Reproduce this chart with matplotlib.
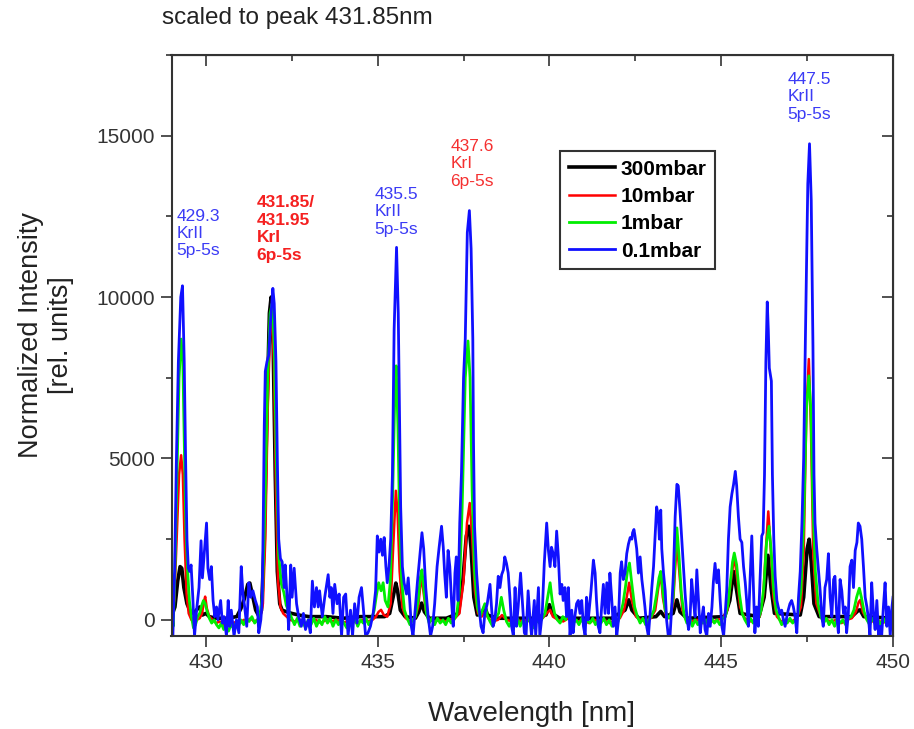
import numpy as np
import matplotlib
matplotlib.use('Agg')
import matplotlib.pyplot as plt
from matplotlib.ticker import MultipleLocator

plt.rcParams['font.family'] = ['Liberation Sans', 'DejaVu Sans']

# ---------------------------------------------------------------------------
# spectra: (wavelength nm, normalized intensity)
# ---------------------------------------------------------------------------
spec_300mbar = [
    (429.00, 100), (429.10, 400), (429.18, 1200), (429.25, 1650), (429.30, 1600),
    (429.36, 1000), (429.45, 500), (429.55, 250), (429.65, 200), (429.72, 300),
    (429.82, 400), (429.90, 150), (430.00, 200), (430.10, 100), (430.30, 50),
    (430.60, 50), (430.90, 100), (431.02, 350), (431.12, 650), (431.22, 1100),
    (431.28, 1140), (431.35, 800), (431.45, 300), (431.55, 100), (431.62, 300),
    (431.70, 2500), (431.78, 6500), (431.85, 9500), (431.90, 10000), (431.96, 8500),
    (432.02, 4500), (432.08, 1500), (432.15, 500), (432.22, 300), (432.35, 250),
    (432.50, 200), (432.70, 150), (433.00, 100), (433.50, 100), (434.00, 50),
    (434.50, 100), (435.00, 100), (435.20, 100), (435.35, 200), (435.45, 700),
    (435.53, 1140), (435.58, 900), (435.66, 300), (435.80, 100), (436.10, 50),
    (436.20, 250), (436.28, 520), (436.36, 250), (436.50, 50), (437.00, 50),
    (437.35, 200), (437.48, 1200), (437.58, 2600), (437.66, 2900), (437.72, 2200),
    (437.80, 700), (437.90, 150), (438.03, 200), (438.12, 410), (438.20, 150),
    (438.50, 50), (439.00, 50), (439.50, 50), (439.90, 150), (440.00, 470),
    (440.08, 200), (440.30, 50), (441.00, 50), (441.80, 50), (442.20, 300),
    (442.31, 620), (442.40, 300), (442.60, 50), (443.10, 100), (443.24, 260),
    (443.35, 100), (443.60, 200), (443.71, 620), (443.80, 250), (444.00, 50),
    (445.10, 100), (445.25, 600), (445.36, 1500), (445.45, 900), (445.55, 200),
    (446.10, 100), (446.25, 700), (446.36, 2000), (446.45, 1000), (446.55, 200),
    (447.30, 150), (447.40, 700), (447.50, 2200), (447.56, 2500), (447.62, 1800),
    (447.70, 500), (447.85, 100), (448.80, 100), (449.00, 300), (449.04, 310),
    (449.15, 100), (450.00, 50),
]

spec_10mbar = [
    (429.00, 200), (429.08, 600), (429.15, 2500), (429.22, 4500), (429.28, 5100),
    (429.33, 4500), (429.38, 2500), (429.44, 800), (429.50, 200), (429.58, 0),
    (429.66, -100), (429.74, 0), (429.82, 50), (429.89, 200), (429.94, 550),
    (429.98, 720), (430.03, 350), (430.10, 100), (430.20, 0), (430.30, -100),
    (430.40, -50), (430.50, -150), (430.60, -100), (430.70, -200), (430.80, -100),
    (430.90, -50), (431.00, -100), (431.10, 0), (431.20, -50), (431.30, 50),
    (431.40, -50), (431.50, 0), (431.58, 50), (431.66, 500), (431.73, 2500),
    (431.80, 6500), (431.87, 9000), (431.92, 9500), (431.98, 8000), (432.04, 4000),
    (432.10, 1200), (432.17, 400), (432.25, 200), (432.35, 100), (432.45, 0),
    (432.60, -50), (432.75, 0), (432.90, -100), (433.05, -50), (433.20, 0),
    (433.35, -100), (433.50, 0), (433.65, -50), (433.80, 0), (433.95, -100),
    (434.10, -50), (434.25, 0), (434.40, -100), (434.55, 0), (434.70, -50),
    (434.85, 0), (434.95, 100), (435.03, 250), (435.10, 310), (435.18, 150),
    (435.28, 100), (435.38, 500), (435.45, 2200), (435.53, 4000), (435.58, 3300),
    (435.64, 1500), (435.72, 400), (435.82, 50), (435.95, -50), (436.08, 50),
    (436.18, 400), (436.27, 1350), (436.32, 1000), (436.40, 300), (436.50, 0),
    (436.65, -50), (436.80, 0), (436.95, -50), (437.10, 0), (437.25, 50),
    (437.38, 200), (437.50, 1200), (437.60, 3000), (437.68, 3620), (437.75, 2600),
    (437.83, 900), (437.92, 200), (438.03, 100), (438.12, 250), (438.22, 50),
    (438.35, -50), (438.50, 0), (438.62, 150), (438.75, 0), (438.90, -50),
    (439.05, 0), (439.20, -50), (439.35, 0), (439.50, -100), (439.65, 0),
    (439.80, 50), (439.92, 200), (440.02, 310), (440.10, 100), (440.25, 0),
    (440.40, -50), (440.55, 50), (440.70, 0), (440.85, -50), (441.00, 0),
    (441.15, -100), (441.30, 0), (441.45, -50), (441.60, 0), (441.75, -100),
    (441.90, 0), (442.05, 50), (442.17, 300), (442.25, 700), (442.32, 1150),
    (442.40, 600), (442.52, 100), (442.65, 0), (442.80, -50), (442.95, 50),
    (443.08, 300), (443.17, 1000), (443.24, 1450), (443.30, 700), (443.40, 100),
    (443.50, 50), (443.60, 500), (443.66, 1600), (443.71, 2400), (443.78, 1500),
    (443.87, 300), (443.98, 0), (444.15, -50), (444.30, 0), (444.45, -100),
    (444.60, 0), (444.75, -50), (444.90, 0), (445.05, 50), (445.18, 300),
    (445.28, 1200), (445.38, 1970), (445.45, 1400), (445.55, 400), (445.68, 50),
    (445.85, -50), (446.00, 0), (446.12, 100), (446.22, 700), (446.30, 2200),
    (446.37, 3360), (446.44, 2200), (446.52, 700), (446.62, 100), (446.75, -50),
    (446.90, 0), (447.05, -50), (447.20, 50), (447.32, 400), (447.40, 2000),
    (447.48, 6500), (447.55, 8080), (447.61, 6000), (447.68, 2000), (447.77, 500),
    (447.90, 100), (448.05, 0), (448.20, -50), (448.35, 0), (448.50, -100),
    (448.65, 0), (448.80, 50), (448.92, 250), (449.00, 550), (449.05, 620),
    (449.12, 250), (449.25, 0), (449.40, -50), (449.55, 0), (449.70, -100),
    (449.85, 0), (450.00, -50),
]

spec_1mbar = [
    (429.00, 300), (429.05, -200), (429.10, 1500), (429.15, 4000), (429.22, 7500),
    (429.28, 8700), (429.33, 8000), (429.38, 5000), (429.42, 2800), (429.47, 1500),
    (429.52, 600), (429.58, 100), (429.64, -250), (429.70, -150), (429.76, 100),
    (429.82, 200), (429.88, 450), (429.93, 600), (429.98, 500), (430.04, 250),
    (430.10, 50), (430.17, -100), (430.24, 0), (430.31, -150), (430.38, -250),
    (430.45, -100), (430.52, -300), (430.59, -200), (430.66, -350), (430.73, -150),
    (430.80, -250), (430.88, -100), (430.95, -200), (431.02, 0), (431.10, -150),
    (431.18, 50), (431.26, -50), (431.34, 100), (431.42, -100), (431.50, 0),
    (431.58, 150), (431.65, 800), (431.72, 3500), (431.80, 7500), (431.87, 9500),
    (431.93, 9800), (431.99, 8500), (432.05, 5000), (432.12, 2000), (432.20, 1100),
    (432.27, 850), (432.34, 450), (432.42, 250), (432.50, 50), (432.58, -150),
    (432.66, 50), (432.74, -200), (432.82, -50), (432.90, -250), (432.98, 0),
    (433.06, -150), (433.14, 50), (433.22, -200), (433.30, 0), (433.38, -150),
    (433.46, 100), (433.54, -100), (433.62, 50), (433.70, -200), (433.78, 0),
    (433.86, -150), (433.94, 50), (434.02, -100), (434.10, -250), (434.18, 0),
    (434.26, -150), (434.34, 50), (434.42, -200), (434.50, 0), (434.58, -100),
    (434.66, 50), (434.74, -150), (434.82, 0), (434.90, 300), (434.97, 800),
    (435.03, 1150), (435.10, 900), (435.16, 1150), (435.22, 600), (435.30, 400),
    (435.37, 1200), (435.44, 4000), (435.50, 7000), (435.54, 7870), (435.59, 6000),
    (435.64, 3000), (435.70, 1200), (435.78, 300), (435.86, 50), (435.94, -150),
    (436.02, 0), (436.10, 100), (436.18, 600), (436.24, 1300), (436.29, 1550),
    (436.34, 1000), (436.42, 200), (436.50, -100), (436.58, 50), (436.66, -150),
    (436.74, 50), (436.82, -100), (436.90, 0), (436.98, -150), (437.06, 50),
    (437.14, -100), (437.22, 0), (437.30, 150), (437.38, 900), (437.46, 3500),
    (437.55, 7500), (437.63, 8640), (437.69, 7500), (437.75, 4000), (437.82, 1500),
    (437.90, 400), (437.98, 100), (438.05, 300), (438.12, 500), (438.19, 150),
    (438.27, -50), (438.35, -200), (438.43, 50), (438.52, 200), (438.60, 700),
    (438.67, 300), (438.75, -50), (438.83, -200), (438.91, 0), (438.99, -150),
    (439.07, 50), (439.15, -200), (439.23, 0), (439.31, -150), (439.39, 50),
    (439.47, -100), (439.55, -250), (439.63, 0), (439.71, -100), (439.79, 50),
    (439.87, 200), (439.95, 700), (440.02, 1150), (440.08, 600), (440.15, 200),
    (440.23, 0), (440.31, -100), (440.39, 100), (440.47, 0), (440.55, 300),
    (440.62, 100), (440.70, -100), (440.78, 0), (440.86, -150), (440.94, 50),
    (441.02, -200), (441.10, 0), (441.18, -100), (441.26, 50), (441.34, -150),
    (441.42, 0), (441.50, -100), (441.58, 50), (441.66, -150), (441.74, 0),
    (441.82, -200), (441.90, 50), (441.98, -100), (442.06, 150), (442.14, 500),
    (442.21, 1000), (442.27, 1500), (442.33, 1760), (442.40, 1100), (442.48, 400),
    (442.56, 100), (442.64, -100), (442.72, 50), (442.80, -150), (442.88, 0),
    (442.96, 100), (443.04, 300), (443.12, 800), (443.19, 1300), (443.24, 1500),
    (443.30, 900), (443.37, 300), (443.45, 50), (443.53, 150), (443.60, 700),
    (443.66, 2000), (443.71, 2850), (443.77, 2000), (443.84, 800), (443.92, 150),
    (444.00, -100), (444.08, 50), (444.16, -200), (444.24, 0), (444.32, -150),
    (444.40, 50), (444.48, -100), (444.56, 0), (444.64, -200), (444.72, 50),
    (444.80, -100), (444.88, 0), (444.96, -150), (445.04, 50), (445.12, 100),
    (445.20, 500), (445.27, 1200), (445.33, 1800), (445.38, 2070), (445.45, 1700),
    (445.53, 800), (445.61, 200), (445.69, 0), (445.77, -150), (445.85, 50),
    (445.93, -100), (446.01, 0), (446.09, 50), (446.16, 300), (446.24, 1000),
    (446.32, 2400), (446.39, 2900), (446.45, 2200), (446.52, 1000), (446.60, 300),
    (446.68, 50), (446.76, -150), (446.84, 0), (446.92, -100), (447.00, 50),
    (447.08, -100), (447.16, 0), (447.24, 200), (447.32, 900), (447.40, 3000),
    (447.48, 6500), (447.55, 7560), (447.61, 6500), (447.67, 3500), (447.74, 1500),
    (447.82, 500), (447.90, 100), (447.98, -100), (448.06, 50), (448.14, -150),
    (448.22, 0), (448.30, -200), (448.38, 50), (448.46, -100), (448.54, 0),
    (448.62, -150), (448.70, 50), (448.78, 100), (448.86, 300), (448.94, 700),
    (449.02, 980), (449.08, 700), (449.16, 250), (449.24, 0), (449.32, -150),
    (449.40, 50), (449.48, -100), (449.56, 0), (449.64, -150), (449.72, 50),
    (449.80, -100), (449.88, 0), (449.96, -150), (450.00, 0),
]

spec_01mbar = [
    (429.00, 1700), (429.04, -500), (429.09, 1500), (429.14, 4800), (429.20, 8000),
    (429.27, 10000), (429.32, 10350), (429.37, 8000), (429.41, 5000), (429.45, 2500),
    (429.49, 1600), (429.53, 1500), (429.57, 1700), (429.62, 700), (429.67, -500),
    (429.73, 300), (429.80, 1000), (429.86, 2450), (429.90, 1300), (429.95, 2000),
    (430.02, 3000), (430.06, 1600), (430.11, 1250), (430.16, 1650), (430.21, 600),
    (430.26, 100), (430.31, 400), (430.35, 0), (430.43, 600), (430.48, -100),
    (430.53, 100), (430.60, -500), (430.65, 600), (430.69, -200), (430.74, 300),
    (430.82, -500), (430.89, 0), (430.96, -400), (431.03, 1650), (431.08, 800),
    (431.13, 400), (431.19, -200), (431.25, 1150), (431.31, 700), (431.37, 900),
    (431.44, 600), (431.50, 400), (431.54, -400), (431.60, 0), (431.64, 600),
    (431.67, 3000), (431.70, 6000), (431.73, 7700), (431.78, 8000), (431.83, 8200),
    (431.88, 9200), (431.95, 10270), (431.99, 9800), (432.04, 8000), (432.08, 5000),
    (432.12, 2500), (432.17, 1900), (432.22, 1800), (432.28, 1000), (432.31, 1700),
    (432.37, 600), (432.41, -300), (432.47, 1700), (432.51, 700), (432.57, 1600),
    (432.64, 500), (432.70, 100), (432.78, -200), (432.84, 200), (432.90, -300),
    (432.98, 0), (433.04, -400), (433.10, 1200), (433.16, 400), (433.22, 1000),
    (433.27, 400), (433.31, 900), (433.39, 100), (433.46, 700), (433.56, 1400),
    (433.61, 700), (433.65, 1000), (433.70, 200), (433.75, 1100), (433.82, 500),
    (433.88, 800), (433.95, -500), (434.01, 700), (434.07, 800), (434.14, -500),
    (434.21, 300), (434.27, -500), (434.33, 500), (434.40, -100), (434.46, 700),
    (434.53, 1000), (434.58, 400), (434.65, -500), (434.72, -400), (434.79, -200),
    (434.87, 200), (434.94, 900), (434.99, 2600), (435.04, 2100), (435.09, 2500),
    (435.14, 2000), (435.19, 2550), (435.24, 1650), (435.28, 1150), (435.33, 1650),
    (435.38, 2500), (435.43, 4500), (435.48, 9000), (435.55, 11540), (435.60, 9500),
    (435.64, 6000), (435.67, 3500), (435.72, 1650), (435.77, 1150), (435.84, 800),
    (435.89, 1300), (435.94, 500), (435.98, -200), (436.03, -500), (436.10, 400),
    (436.16, 1200), (436.23, 2000), (436.29, 2700), (436.34, 2200), (436.40, 1000),
    (436.47, 100), (436.54, -500), (436.60, -200), (436.66, 500), (436.73, 1650),
    (436.79, 2250), (436.86, 2900), (436.91, 2250), (436.95, 1450), (437.00, 700),
    (437.05, 2150), (437.10, 1650), (437.15, 600), (437.20, -200), (437.25, 1450),
    (437.29, 1950), (437.34, 600), (437.39, 3000), (437.44, 4550), (437.50, 7500),
    (437.55, 8700), (437.61, 12000), (437.67, 12680), (437.72, 11500), (437.77, 8700),
    (437.79, 5500), (437.82, 2900), (437.88, 1450), (437.95, 400), (438.01, -200),
    (438.07, -400), (438.12, 200), (438.19, 500), (438.27, 1100), (438.32, 300),
    (438.36, -200), (438.41, 0), (438.46, 500), (438.51, 1350), (438.56, 1000),
    (438.61, 1400), (438.66, 1550), (438.70, 1950), (438.75, 1750), (438.80, 1450),
    (438.85, 700), (438.90, -200), (438.95, -500), (439.00, 1000), (439.04, -200),
    (439.09, 400), (439.16, 1450), (439.21, 600), (439.27, -400), (439.32, -500),
    (439.38, 900), (439.43, 100), (439.48, -500), (439.56, 600), (439.60, -500),
    (439.68, 1000), (439.72, -500), (439.79, 200), (439.85, 1750), (439.92, 3000),
    (439.97, 2150), (440.02, 1650), (440.06, 2250), (440.11, 2050), (440.16, 1650),
    (440.21, 2750), (440.26, 1950), (440.31, 800), (440.36, 1100), (440.40, 600),
    (440.45, 1000), (440.50, 100), (440.55, 1000), (440.60, -500), (440.65, 300),
    (440.69, -400), (440.74, 100), (440.79, 500), (440.84, 600), (440.89, 200),
    (440.94, 600), (440.99, -200), (441.04, -500), (441.08, 700), (441.13, 0),
    (441.21, 900), (441.28, 1850), (441.33, 1450), (441.37, 600), (441.42, -200),
    (441.47, -400), (441.52, 400), (441.57, 1100), (441.62, 200), (441.67, 1150),
    (441.72, 200), (441.76, 1450), (441.81, 700), (441.86, -200), (441.91, 400),
    (441.96, -500), (442.01, 0), (442.06, 1450), (442.10, 1800), (442.15, 1250),
    (442.20, 1450), (442.25, 2050), (442.30, 2350), (442.35, 2550), (442.40, 2500),
    (442.42, 2700), (442.46, 2800), (442.49, 2600), (442.54, 2200), (442.59, 1450),
    (442.64, 1950), (442.69, 1250), (442.74, 800), (442.78, 400), (442.83, -200),
    (442.88, -500), (442.93, 200), (442.98, 1000), (443.03, 1650), (443.07, 2500),
    (443.12, 3500), (443.17, 3200), (443.20, 2500), (443.24, 3400), (443.27, 2200),
    (443.32, 1450), (443.37, 900), (443.41, 0), (443.46, -500), (443.51, -500),
    (443.56, 400), (443.61, 1450), (443.66, 3200), (443.71, 4200), (443.75, 4150),
    (443.80, 3400), (443.85, 2500), (443.90, 1650), (443.95, 800), (444.00, 100),
    (444.05, -300), (444.09, 0), (444.14, 1250), (444.19, 600), (444.24, 100),
    (444.29, 1550), (444.34, 600), (444.39, -400), (444.43, 0), (444.48, 400),
    (444.53, -300), (444.58, -500), (444.63, 200), (444.68, -200), (444.73, 400),
    (444.77, 1150), (444.82, 1750), (444.87, 1150), (444.92, 1550), (444.97, 600),
    (445.02, -200), (445.07, -500), (445.11, 100), (445.16, 900), (445.21, 2500),
    (445.26, 3500), (445.31, 3900), (445.36, 4200), (445.41, 4600), (445.45, 4150),
    (445.50, 3200), (445.55, 2500), (445.60, 2400), (445.65, 1650), (445.70, 1150),
    (445.74, 600), (445.79, -200), (445.84, 1250), (445.89, 2600), (445.94, 900),
    (445.98, -400), (446.03, 400), (446.08, -200), (446.13, 1250), (446.18, 2600),
    (446.22, 2700), (446.26, 4500), (446.30, 8000), (446.34, 9850), (446.37, 9000),
    (446.40, 7800), (446.46, 7400), (446.49, 4500), (446.53, 2500), (446.57, 1350),
    (446.62, 600), (446.66, 400), (446.71, 200), (446.76, 300), (446.81, 0),
    (446.86, -200), (446.91, 100), (446.95, 300), (447.00, 500), (447.05, 600),
    (447.10, 400), (447.15, 100), (447.20, -400), (447.25, 700), (447.30, 1500),
    (447.35, 3000), (447.40, 5000), (447.45, 8700), (447.52, 13500), (447.57, 14750),
    (447.62, 13000), (447.67, 8500), (447.70, 4500), (447.73, 3000), (447.78, 2200),
    (447.83, 1550), (447.88, 900), (447.93, 100), (447.97, -200), (448.02, 1000),
    (448.07, 1250), (448.12, 2050), (448.17, 700), (448.22, 100), (448.27, 1250),
    (448.31, 1350), (448.36, 200), (448.41, -400), (448.46, 1250), (448.51, 900),
    (448.56, 200), (448.61, 400), (448.65, -400), (448.70, 200), (448.75, 1650),
    (448.80, 1850), (448.85, 1000), (448.90, 2150), (448.95, 2400), (448.99, 3000),
    (449.04, 2900), (449.09, 2500), (449.14, 1650), (449.19, 700), (449.24, 400),
    (449.29, 0), (449.33, -500), (449.38, 1150), (449.43, 200), (449.48, -300),
    (449.53, 600), (449.58, -500), (449.63, -200), (449.67, -500), (449.72, 400),
    (449.77, 1150), (449.82, -200), (449.87, 400), (449.92, -500), (449.96, 300),
    (450.00, 700),
]

series_labels = ['300mbar', '10mbar', '1mbar', '0.1mbar']
series_colors = ['#000000', '#ff0000', '#00ee00', '#1010ff']

# line annotations: (x, y, text, colour, weight)
annotations = [
    (429.15, 11970, '429.3\nKrII\n5p-5s', '#3b3bf5', 'normal'),
    (431.48, 12110, '431.85/\n431.95\nKrI\n6p-5s', '#f52020', 'bold'),
    (434.91, 12640, '435.5\nKrII\n5p-5s', '#3b3bf5', 'normal'),
    (437.11, 14130, '437.6\nKrI\n6p-5s', '#f53030', 'normal'),
    (446.92, 16200, '447.5\nKrII\n5p-5s', '#3b3bf5', 'normal'),
]

# ---------------------------------------------------------------------------
fig = plt.figure(figsize=(9.14, 7.29), dpi=100)
ax = fig.add_axes([171.5 / 914, 93 / 729, 721.5 / 914, 581 / 729])

specs = [spec_300mbar, spec_10mbar, spec_1mbar, spec_01mbar]
widths = [2.6, 1.8, 2.0, 2.0]
for spec, lab, col, lw in zip(specs, series_labels, series_colors, widths):
    wl, inten = np.array(spec).T
    ax.plot(wl, inten, color=col, lw=lw, label=lab)

ax.set_xlim(429, 450)
ax.set_ylim(-500, 17500)
ax.set_xticks([430, 435, 440, 445, 450])
ax.set_yticks([0, 5000, 10000, 15000])
ax.xaxis.set_minor_locator(MultipleLocator(2.5))
ax.yaxis.set_minor_locator(MultipleLocator(2500))
ax.tick_params(which='both', direction='out', top=False, right=False,
               labelsize=15, labelcolor='#333333', width=1.2, color='#333333')
ax.tick_params(which='major', length=8, pad=4)
ax.tick_params(which='minor', length=4.5)
for s in ax.spines.values():
    s.set_linewidth(1.5)
    s.set_color('#333333')

# mirrored ticks pointing inward on top / right
secx = ax.secondary_xaxis('top')
secx.set_xticks([430, 435, 440, 445, 450])
secx.xaxis.set_minor_locator(MultipleLocator(2.5))
secx.tick_params(which='both', direction='in', labeltop=False, width=1.2, color='#333333')
secx.tick_params(which='major', length=8)
secx.tick_params(which='minor', length=4.5)
secy = ax.secondary_yaxis('right')
secy.set_yticks([0, 5000, 10000, 15000])
secy.yaxis.set_minor_locator(MultipleLocator(2500))
secy.tick_params(which='both', direction='in', labelright=False, width=1.2, color='#333333')
secy.tick_params(which='major', length=8)
secy.tick_params(which='minor', length=4.5)

for x, y, txt, col, w in annotations:
    ax.text(x, y, txt, color=col, fontsize=12.5, fontweight=w,
            ha='left', va='center', linespacing=1.2)

leg = ax.legend(loc='upper left', bbox_to_anchor=(0.539, 0.834), borderaxespad=0,
                prop={'weight': 'bold', 'size': 15}, handlelength=2.2,
                handletextpad=0.3, labelspacing=0.4, borderpad=0.4,
                fancybox=False, framealpha=1)
leg.get_frame().set_linewidth(1.5)
leg.get_frame().set_edgecolor('#333333')

fig.text(162 / 914, 1 - 18 / 729, 'scaled to peak 431.85nm', fontsize=17.5,
         ha='left', va='center', color='#222222')
fig.text(532 / 914, 1 - 714 / 729, 'Wavelength [nm]', fontsize=20,
         ha='center', va='center', color='#222222')
fig.text(46 / 914, 1 - 335 / 729, 'Normalized Intensity\n[rel. units]', fontsize=19.5,
         rotation=90, ha='center', va='center', multialignment='center',
         linespacing=1.15, color='#222222')

fig.savefig('out.png', dpi=100)
